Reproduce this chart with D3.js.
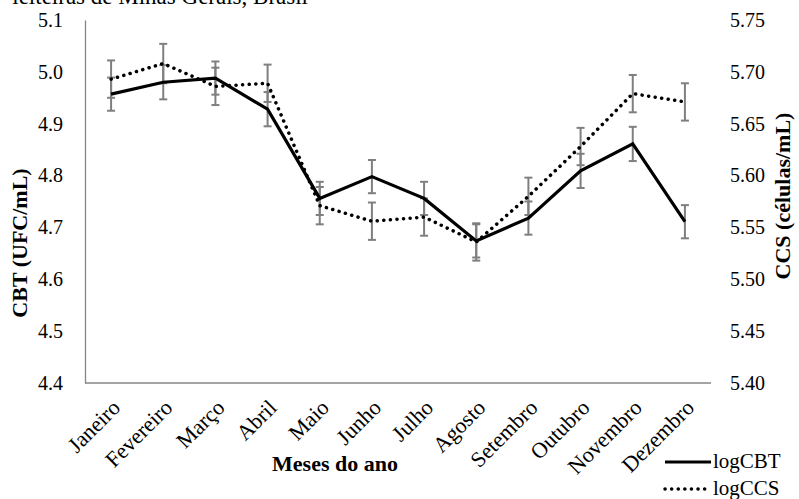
<!DOCTYPE html>
<html><head><meta charset="utf-8">
<script src="https://cdn.jsdelivr.net/npm/d3@7"></script>
<style>
html,body{margin:0;padding:0;background:#fff;}
svg{display:block;}
text{font-family:"Liberation Serif","Times New Roman",serif;fill:#000;}
</style></head>
<body>
<svg id="chart" width="799" height="499"></svg>
<script>
const months = ["Janeiro","Fevereiro","Março","Abril","Maio","Junho","Julho","Agosto","Setembro","Outubro","Novembro","Dezembro"];
const logCBT = [4.957, 4.980, 4.988, 4.928, 4.756, 4.798, 4.756, 4.674, 4.718, 4.809, 4.861, 4.711];
const cbtErr = [0.032, 0.033, 0.032, 0.033, 0.032, 0.032, 0.032, 0.032, 0.032, 0.033, 0.033, 0.032];
const logCCS = [5.693, 5.708, 5.686, 5.689, 5.571, 5.556, 5.560, 5.536, 5.580, 5.628, 5.679, 5.671];
const ccsErr = [0.018, 0.019, 0.018, 0.018, 0.018, 0.018, 0.018, 0.018, 0.018, 0.018, 0.018, 0.018];
const leftTicks = [4.4, 4.5, 4.6, 4.7, 4.8, 4.9, 5.0, 5.1];
const rightTicks = [5.40, 5.45, 5.50, 5.55, 5.60, 5.65, 5.70, 5.75];
const seriesNames = ["logCBT", "logCCS"];

const svg = d3.select("#chart");
const L = 85, R = 711, T = 20, B = 383;

const x = d3.scalePoint().domain(months).range([L, R]).padding(0.5);
const yL = d3.scaleLinear().domain([4.4, 5.1]).range([B, T]);
const yR = d3.scaleLinear().domain([5.40, 5.75]).range([B, T]);

// clipped caption at top
svg.append("text").attr("x", 308).attr("y", 4).attr("text-anchor", "end")
  .style("font-size", "23px").text("leiteiras de Minas Gerais, Brasil");

// left axis
const axL = d3.axisLeft(yL).tickValues(leftTicks).tickFormat(d3.format(".1f")).tickSize(0).tickPadding(22);
const gL = svg.append("g").attr("transform", `translate(${L},0)`).call(axL);
gL.select(".domain").attr("stroke", "#868686").attr("stroke-width", 1.3);
gL.selectAll("text").style("font-size", "20px").style("font-family", "Liberation Serif");

// right axis (labels only)
const axR = d3.axisRight(yR).tickValues(rightTicks).tickFormat(d3.format(".2f")).tickSize(0).tickPadding(19);
const gR = svg.append("g").attr("transform", `translate(${R},0)`).call(axR);
gR.select(".domain").remove();
gR.selectAll("text").style("font-size", "20px").style("font-family", "Liberation Serif");

// bottom axis
const axB = d3.axisBottom(x).tickSize(0).tickPadding(0);
const gB = svg.append("g").attr("transform", `translate(0,${B})`).call(axB);
gB.select(".domain").attr("stroke", "#868686").attr("stroke-width", 1.3).attr("d", `M${L},0H${R}`);
gB.selectAll("text")
  .style("font-size", "22px").style("font-family", "Liberation Serif")
  .attr("text-anchor", "end")
  .attr("y", 0).attr("dy", 0)
  .attr("transform", "translate(10,26) rotate(-45)");

// error bars
function errBars(vals, errs, y, cls) {
  const g = svg.append("g").attr("class", cls).attr("stroke", "#7f7f7f").attr("stroke-width", 2).attr("fill", "none");
  vals.forEach((v, i) => {
    const cx = x(months[i]);
    const y1 = y(v + errs[i]), y2 = y(v - errs[i]);
    g.append("line").attr("x1", cx).attr("x2", cx).attr("y1", y1).attr("y2", y2);
    g.append("line").attr("x1", cx - 4).attr("x2", cx + 4).attr("y1", y1).attr("y2", y1);
    g.append("line").attr("x1", cx - 4).attr("x2", cx + 4).attr("y1", y2).attr("y2", y2);
  });
}
errBars(logCCS, ccsErr, yR, "errCCS");
errBars(logCBT, cbtErr, yL, "errCBT");

// lines
const lineL = d3.line().x((d, i) => x(months[i])).y(d => yL(d));
const lineR = d3.line().x((d, i) => x(months[i])).y(d => yR(d));
svg.append("path").datum(logCCS).attr("d", lineR).attr("fill", "none")
  .attr("stroke", "#000").attr("stroke-width", 3.5).attr("stroke-linecap", "round")
  .attr("stroke-dasharray", "0.1,6.5");
svg.append("path").datum(logCBT).attr("d", lineL).attr("fill", "none")
  .attr("stroke", "#000").attr("stroke-width", 3.2).attr("stroke-linejoin", "miter");

// axis titles
svg.append("text").attr("transform", "translate(27,243) rotate(-90)").attr("text-anchor", "middle")
  .style("font-size", "22px").style("font-weight", "bold").text("CBT (UFC/mL)");
svg.append("text").attr("transform", "translate(790,196) rotate(-90)").attr("text-anchor", "middle")
  .style("font-size", "22px").style("font-weight", "bold").text("CCS (células/mL)");
svg.append("text").attr("x", 335).attr("y", 471).attr("text-anchor", "middle")
  .style("font-size", "22px").style("font-weight", "bold").text("Meses do ano");

// legend
const leg = svg.append("g");
const legY = [462, 489];
seriesNames.forEach((n, i) => {
  const ln = leg.append("line").attr("x1", 665).attr("x2", 711).attr("y1", legY[i]).attr("y2", legY[i])
    .attr("stroke", "#000");
  if (i === 0) ln.attr("stroke-width", 3.2);
  else ln.attr("stroke-width", 3.5).attr("stroke-linecap", "round").attr("stroke-dasharray", "0.1,6.5");
  leg.append("text").attr("x", 713).attr("y", legY[i] + 6).style("font-size", "21px").text(n);
});
</script>
</body></html>
